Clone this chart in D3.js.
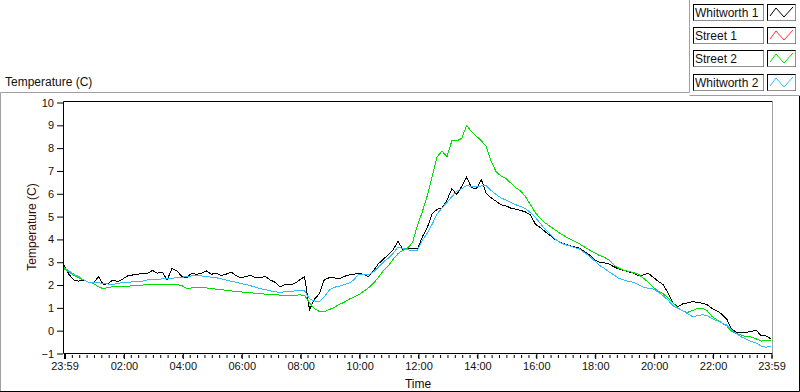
<!DOCTYPE html>
<html>
<head>
<meta charset="utf-8">
<script src="https://cdn.jsdelivr.net/npm/d3@7"></script>
<style>
  body { margin: 0; background: #fff; }
  svg { display: block; font-family: "Liberation Sans", Arial, sans-serif; }
  .tick text { font-size: 11px; fill: #111; }
  .tick line { stroke: #000; }
  .series { fill: none; stroke-width: 1; shape-rendering: crispEdges; }
</style>
</head>
<body>
<svg width="800" height="392"></svg>
<script>
// readings every 10 minutes, starting at 23:59 of the previous day
const stepMinutes = 10;

const seriesNames = ['Whitworth 1', 'Street 1', 'Street 2', 'Whitworth 2'];

const whitworth1 = [
  2.85, 2.45, 2.2, 2.15, 2.2, 2.1, 2.05, 2.35, 2.0, 2.05,
  2.2, 2.12, 2.25, 2.38, 2.42, 2.45, 2.5, 2.48, 2.62, 2.5,
  2.55, 2.2, 2.7, 2.6, 2.35, 2.3, 2.5, 2.45, 2.5, 2.6,
  2.45, 2.5, 2.4, 2.45, 2.55, 2.4, 2.3, 2.35, 2.4, 2.3,
  2.3, 2.35, 2.2, 2.1, 1.9, 2.0, 1.98, 2.05, 2.2, 2.35,
  0.9, 1.35, 1.6, 2.2, 2.3, 2.3, 2.25, 2.35, 2.42, 2.45,
  2.5, 2.45, 2.35, 2.6, 2.9, 3.1, 3.3, 3.5, 3.9, 3.55,
  3.55, 3.6, 3.55, 4.1, 4.5, 5.1, 5.3, 5.35, 5.7, 6.2,
  5.95, 6.3, 6.7, 6.25, 6.2, 6.6, 6.0, 5.8, 5.65, 5.5,
  5.45, 5.35, 5.3, 5.25, 5.18, 5.05, 4.65, 4.5, 4.32, 4.15,
  3.98, 3.85, 3.78, 3.7, 3.65, 3.6, 3.45, 3.3, 3.1, 2.98,
  2.95, 2.9, 2.78, 2.68, 2.62, 2.55, 2.5, 2.38, 2.42, 2.5,
  2.32, 2.15, 2.0, 1.65, 1.2, 1.02, 1.15, 1.2, 1.25, 1.22,
  1.18, 1.12, 0.95, 0.85, 0.7, 0.48, 0.05, -0.1, -0.08, -0.1,
  -0.05, 0.0, -0.25, -0.25, -0.38
];

const street1 = [];

const street2 = [
  2.7, 2.55, 2.4, 2.3, 2.2, 2.1, 2.05, 1.9, 1.82, 1.88,
  1.9, 1.9, 1.9, 1.92, 1.95, 1.97, 1.98, 2.0, 2.0, 2.0,
  2.0, 2.0, 2.0, 2.0, 1.95, 1.82, 1.85, 1.88, 1.88, 1.85,
  1.82, 1.8, 1.78, 1.75, 1.72, 1.7, 1.68, 1.66, 1.64, 1.62,
  1.6, 1.58, 1.56, 1.55, 1.54, 1.53, 1.52, 1.53, 1.55, 1.52,
  1.2, 0.95, 0.82, 0.8, 0.9, 1.0, 1.12, 1.22, 1.35, 1.45,
  1.55, 1.7, 1.85, 2.05, 2.3, 2.6, 2.8, 3.1, 3.35, 3.5,
  3.6, 3.85, 4.6, 5.2, 5.9, 6.75, 7.6, 7.85, 7.6, 8.3,
  8.3, 8.4, 8.97, 8.7, 8.5, 8.3, 8.05, 7.4, 6.95, 6.75,
  6.65, 6.45, 6.25, 6.1, 5.85, 5.5, 5.15, 4.9, 4.7, 4.55,
  4.4, 4.25, 4.12, 4.0, 3.9, 3.78, 3.65, 3.52, 3.4, 3.28,
  3.2, 3.07, 2.85, 2.72, 2.62, 2.58, 2.52, 2.45, 2.28, 2.1,
  1.88, 1.72, 1.6, 1.42, 1.2, 0.98, 0.85, 0.78, 0.86, 0.95,
  0.96, 0.85, 0.6, 0.45, 0.32, 0.18, -0.05, -0.15, -0.22, -0.28,
  -0.3, -0.38, -0.48, -0.45, -0.45
];

const whitworth2 = [
  2.75, 2.6, 2.45, 2.35, 2.2, 2.1, 2.08, 2.08, 2.05, 2.02,
  2.0, 2.05, 2.1, 2.1, 2.12, 2.12, 2.15, 2.2, 2.2, 2.22,
  2.25, 2.25, 2.28, 2.3, 2.32, 2.35, 2.38, 2.38, 2.38, 2.35,
  2.32, 2.3, 2.25, 2.2, 2.15, 2.1, 2.05, 2.0, 1.95, 1.88,
  1.82, 1.78, 1.72, 1.68, 1.66, 1.68, 1.7, 1.72, 1.76, 1.72,
  1.38, 1.28, 1.26, 1.45, 1.75, 1.88, 1.92, 2.0, 2.05, 2.2,
  2.45, 2.42, 2.42, 2.55, 2.75, 2.98, 3.15, 3.35, 3.65, 3.58,
  3.52, 3.5, 3.5, 3.95, 4.25, 4.65, 5.1, 5.35, 5.6, 5.85,
  6.1, 6.2, 6.34, 6.3, 6.29, 6.32, 6.34, 6.12, 5.95, 5.8,
  5.7, 5.6, 5.5, 5.42, 5.33, 5.15, 4.95, 4.68, 4.42, 4.2,
  4.0, 3.85, 3.75, 3.7, 3.62, 3.56, 3.4, 3.25, 3.05, 2.85,
  2.72, 2.56, 2.42, 2.27, 2.2, 2.14, 2.1, 2.0, 1.88, 1.84,
  1.8, 1.68, 1.52, 1.32, 1.08, 0.95, 0.86, 0.72, 0.6, 0.63,
  0.68, 0.64, 0.5, 0.42, 0.32, 0.22, 0.0, -0.15, -0.3, -0.4,
  -0.5, -0.56, -0.7, -0.75, -0.7
];

const seriesValues = [whitworth1, street1, street2, whitworth2];
const seriesColors = ['#000000', '#ff3030', '#00e000', '#33bbff'];

// x tick labels and their offsets in minutes from the 23:59 start
const xTickLabels = ['23:59', '02:00', '04:00', '06:00', '08:00', '10:00', '12:00',
  '14:00', '16:00', '18:00', '20:00', '22:00', '23:59'];
const xTickMinutes = [0, 121, 241, 361, 481, 601, 721, 841, 961, 1081, 1201, 1321, 1440];
const yTickValues = [-1, 0, 1, 2, 3, 4, 5, 6, 7, 8, 9, 10];

function whenLoaded() {
  const svg = d3.select('svg');
  const plot = {left: 63.5, top: 101.5, right: 772.5, bottom: 353.5};

  // outer panel frame
  svg.append('path').attr('d', 'M0.5,392 V92.5 H689.5 V0')
    .attr('fill', 'none').attr('stroke', '#a0a0a0');
  svg.append('path').attr('d', 'M689.5,95.5 H799.5 V391.5 H0')
    .attr('fill', 'none').attr('stroke', '#a0a0a0');
  svg.append('path').attr('d', 'M799.5,96 V391.5 H0')
    .attr('fill', 'none').attr('stroke', '#000');

  svg.append('text')
    .attr('x', 5).attr('y', 86)
    .style('font-size', '12px').attr('fill', '#111')
    .text('Temperature (C)');

  const xScale = d3.scaleLinear()
    .domain([0, 1440])
    .range([64, 771]);

  const yScale = d3.scaleLinear()
    .domain([-1, 10])
    .range([353, 102]);

  // plot frame
  svg.append('path')
    .attr('d', `M${plot.left},${plot.bottom} V${plot.top} H${plot.right}`)
    .attr('fill', 'none').attr('stroke', '#000');
  svg.append('path')
    .attr('d', `M${plot.right},${plot.top} V${plot.bottom}`)
    .attr('fill', 'none').attr('stroke', '#a0a0a0');
  svg.append('path')
    .attr('d', `M${plot.left},${plot.bottom} H${plot.right}`)
    .attr('fill', 'none').attr('stroke', '#000');

  const yAxis = d3.axisLeft(yScale)
    .tickValues(yTickValues)
    .tickFormat(d3.format('d'))
    .tickSize(6)
    .tickPadding(3);

  const yAxisG = svg.append('g')
    .attr('transform', `translate(${plot.left - 0.5},0.5)`)
    .call(yAxis);
  yAxisG.select('.domain').remove();

  const minorAxis = d3.axisBottom(xScale)
    .tickValues(d3.range(0, 1441, 15))
    .tickFormat('')
    .tickSize(3);
  const minorG = svg.append('g')
    .attr('transform', `translate(0.5,${plot.bottom + 1.5})`)
    .call(minorAxis);
  minorG.select('.domain').remove();

  const xAxis = d3.axisBottom(xScale)
    .tickValues(xTickMinutes)
    .tickFormat((d, i) => xTickLabels[i])
    .tickSize(5)
    .tickPadding(3.5);
  const xAxisG = svg.append('g')
    .attr('transform', `translate(0.5,${plot.bottom + 0.5})`)
    .call(xAxis);
  xAxisG.select('.domain').remove();
  xAxisG.select('.tick line').attr('stroke-width', 2);

  svg.append('text')
    .attr('x', 418).attr('y', 388)
    .attr('text-anchor', 'middle')
    .style('font-size', '12px').attr('fill', '#1a0808')
    .text('Time');

  svg.append('text')
    .attr('transform', 'translate(36,227) rotate(-90)')
    .attr('text-anchor', 'middle')
    .style('font-size', '12px').attr('fill', '#3a0c0c')
    .text('Temperature (C)');

  const lineGenerator = d3.line()
    .x((d, i) => xScale(i * stepMinutes))
    .y(d => yScale(d));

  svg.selectAll('.series').data(seriesValues)
    .enter().append('path')
    .attr('class', 'series')
    .attr('stroke', (d, i) => seriesColors[i])
    .attr('d', d => d.length ? lineGenerator(d) : null);

  // legend
  const legend = svg.append('g');
  seriesNames.forEach((name, i) => {
    const top = 4 + i * 23.2;
    const row = legend.append('g').attr('transform', `translate(0,${Math.round(top)})`);

    row.append('rect')
      .attr('x', 693.5).attr('y', 0.5).attr('width', 70).attr('height', 16)
      .attr('fill', '#fff').attr('stroke', '#000');
    row.append('path').attr('d', 'M763.5,0.5 V16.5 H693.5')
      .attr('fill', 'none').attr('stroke', '#909090');
    row.append('text')
      .attr('x', 695).attr('y', 13)
      .style('font-size', '12px').attr('fill', '#111')
      .text(name);

    row.append('rect')
      .attr('x', 767.5).attr('y', 0.5).attr('width', 28).attr('height', 16)
      .attr('fill', '#fff').attr('stroke', '#000');
    row.append('path').attr('d', 'M795.5,0.5 V16.5 H767.5')
      .attr('fill', 'none').attr('stroke', '#909090');
    row.append('path')
      .attr('d', 'M770,12 L776,4 L784,13 L793,3')
      .attr('fill', 'none')
      .attr('stroke', seriesColors[i]);
  });
}

window.onload = whenLoaded;
</script>
</body>
</html>
